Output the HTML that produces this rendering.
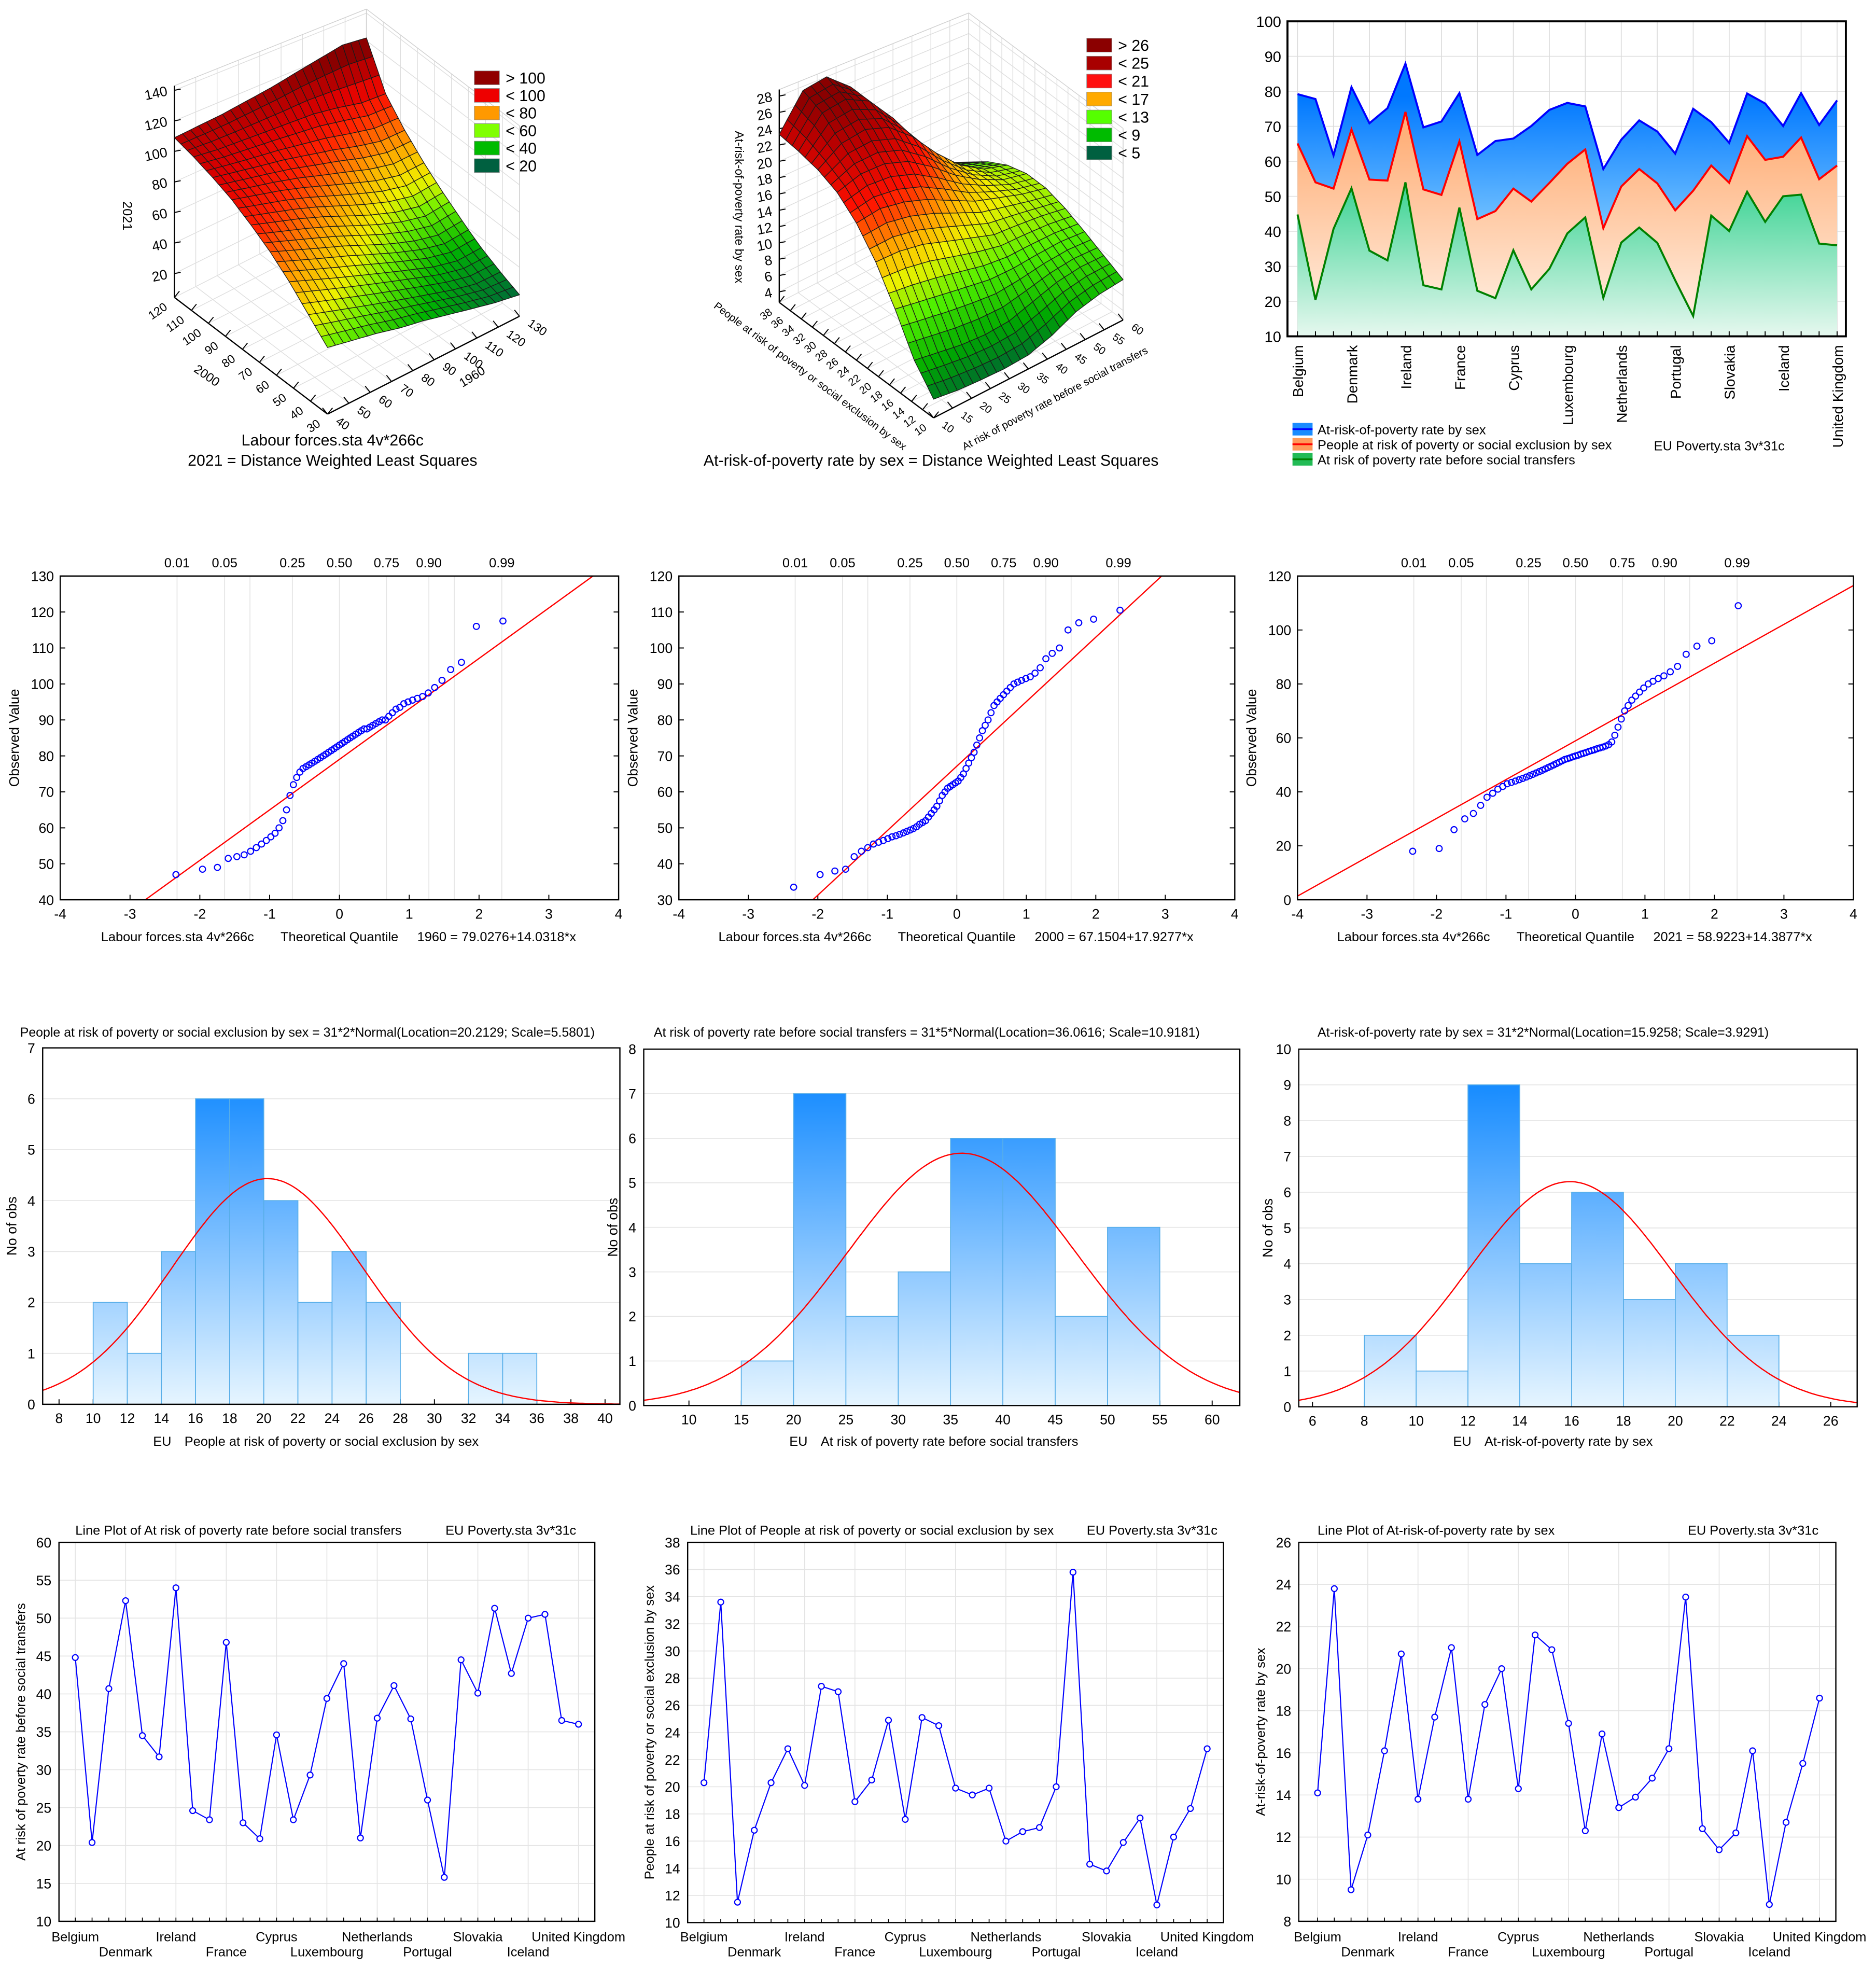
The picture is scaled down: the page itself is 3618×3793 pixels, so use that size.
<!DOCTYPE html>
<html><head><meta charset="utf-8">
<style>html,body{margin:0;padding:0;background:#fff}svg{display:block}text{font-family:"Liberation Sans",Arial,sans-serif}</style>
</head><body>
<svg id="root" width="3618" height="3793" viewBox="0 0 1495 1567.4" preserveAspectRatio="none" xmlns="http://www.w3.org/2000/svg"><defs id="defs"></defs><rect x="0" y="0" width="1495" height="1568" fill="#fff"/></svg>
<script>
// ---------- DATA ----------
const countries=["Belgium","Bulgaria","Czechia","Denmark","Germany","Estonia","Ireland","Greece","Spain","France","Croatia","Italy","Cyprus","Latvia","Lithuania","Luxembourg","Hungary","Malta","Netherlands","Austria","Poland","Portugal","Romania","Slovenia","Slovakia","Finland","Sweden","Iceland","Norway","Switzerland","United Kingdom"];
const beforeTransfers=[44.8,20.4,40.7,52.3,34.5,31.7,54.0,24.6,23.4,46.8,23.0,20.9,34.6,23.4,29.3,39.4,44.0,21.0,36.8,41.1,36.7,26.0,15.8,44.5,40.1,51.3,42.7,50.0,50.5,36.5,36.0];
const peopleAtRisk=[20.3,33.6,11.5,16.8,20.3,22.8,20.1,27.4,27.0,18.9,20.5,24.9,17.6,25.1,24.5,19.9,19.4,19.9,16.0,16.7,17.0,20.0,35.8,14.3,13.8,15.9,17.7,11.3,16.3,18.4,22.8];
const atRiskRate=[14.1,23.8,9.5,12.1,16.1,20.7,13.8,17.7,21.0,13.8,18.3,20.0,14.3,21.6,20.9,17.4,12.3,16.9,13.4,13.9,14.8,16.2,23.4,12.4,11.4,12.2,16.1,8.8,12.7,15.5,18.6];
const h1BinStarts=[10,12,14,16,18,20,22,24,26,28,30,32,34];
const h1Counts=[2,1,3,6,6,4,2,3,2,0,0,1,1];
const h1Fit=[20.2129,5.5801,62];
const h2BinStarts=[15,20,25,30,35,40,45,50];
const h2Counts=[1,7,2,3,6,6,2,4];
const h2Fit=[36.0616,10.9181,155];
const h3BinStarts=[8,10,12,14,16,18,20,22];
const h3Counts=[2,1,9,4,6,3,4,2];
const h3Fit=[15.9258,3.9291,62];
const qq1Obs=[47,48.5,49,51.5,52,52.5,53.5,54.5,55.5,56.5,57.5,58.5,60,62,65,69,72,74,75.5,76.5,77,77.5,78,78.5,79,79.5,80,80.5,81,81.5,82,82.5,83,83.5,84,84.5,85,85.5,86,86.5,87,87.5,87.5,88,88.5,89,89.5,90,90,91,92,93,93.5,94.5,95,95.5,96,96.5,97.5,99,101,104,106,116,117.5];
const qq1Fit=[79.0276,14.0318];
const qq2Obs=[33.5,37,38,38.5,42,43.5,44.5,45.5,46,46.5,47,47.5,47.8,48.2,48.6,49,49.4,49.8,50.3,51,51.5,52,53,54,55,56,57.5,59,60,61,61.5,62,62.5,63,64,65,66.5,68,69.5,71,73,75,77,78.5,80,82,84,85,86,87,88,89,90,90.5,91,91.5,92,93,94.5,97,98.5,100,105,107,108,110.5];
const qq2Fit=[67.1504,17.9277];
const qq3Obs=[18,19,26,30,32,35,38,39.5,41,42,43,43.5,44,44.5,45,45.5,46,46.5,47,47.5,48,48.5,49,49.5,50,50.5,51,51.5,52,52.3,52.6,53,53.3,53.6,54,54.3,54.6,55,55.3,55.6,56,56.3,56.6,57,57.5,58.5,61,64,67,70,72,74,75.5,77,78.5,80,81,82,83,84.5,86.5,91,94,96,109];
const qq3Fit=[58.9223,14.3877];
const quantileLabels=["0.01","0.05","0.25","0.50","0.75","0.90","0.99"];
const quantileProbs=[0.01,0.05,0.25,0.5,0.75,0.9,0.99];
const surf1Grid=[
[48,45,42,38,35,31,27,23,20],
[60,55,50,45,40,35,30,26,26],
[72,66,60,54,48,42,36,32,33],
[82,76,70,64,57,50,44,40,42],
[90,85,80,74,67,60,54,50,52],
[97,93,89,84,78,72,66,62,63],
[102,99,96,93,89,85,80,76,76],
[106,104,103,102,101,100,97,93,92],
[109,110,111,113,115,118,121,124,122]];
const surf2Grid=[
[5,4.6,4.4,4.3,4.5,5.5,7,7.8,8.2],
[8,7.5,7,6.8,7,8,9,9.5,9.5],
[12.5,12,11.5,11,10.5,10.5,10.8,11,10.8],
[16.5,16.5,16,15,14,13,12.8,12.5,12],
[19.5,20,19.5,18.5,17,15.5,14.5,13.5,12.8],
[21.5,22.5,22.5,21.5,19.5,17,15,13.5,12.8],
[22.5,24.5,25,24,21.5,18,15,13,12],
[23,26.5,27,25.5,22,17.5,14,11.5,10.5],
[23.3,27.5,28,25.5,21,16,12,10,8.5]];
const legend1Labels=["> 100","< 100","< 80","< 60","< 40","< 20"];
const legend2Labels=["> 26","< 25","< 21","< 17","< 13","< 9","< 5"];

// ---------- HELPERS ----------
const NS='http://www.w3.org/2000/svg';
const root=document.getElementById('root');
const defs=document.getElementById('defs');
function mk(tag,attrs,parent){const e=document.createElementNS(NS,tag);for(const k in attrs)e.setAttribute(k,attrs[k]);(parent||root).appendChild(e);return e;}
function tx(s,x,y,opts,parent){const t=mk('text',Object.assign({x:x,y:y,'font-size':10.5,fill:'#000'},opts||{}),parent);t.textContent=s;return t;}
function grad(id,y1,y2,c1,c2){const g=mk('linearGradient',{id:id,gradientUnits:'userSpaceOnUse',x1:0,y1:y1,x2:0,y2:y2},defs);mk('stop',{offset:0,'stop-color':c1},g);mk('stop',{offset:1,'stop-color':c2},g);}
function hex(c){return [parseInt(c.slice(1,3),16),parseInt(c.slice(3,5),16),parseInt(c.slice(5,7),16)];}
function cmap(stops,z){if(z<=stops[0][0])return stops[0][1];for(let i=1;i<stops.length;i++){if(z<=stops[i][0]){const t=(z-stops[i-1][0])/(stops[i][0]-stops[i-1][0]);const a=hex(stops[i-1][1]),b=hex(stops[i][1]);return 'rgb('+a.map((v,k)=>Math.round(v+(b[k]-v)*t)).join(',')+')';}}return stops[stops.length-1][1];}
function invN(p){const a=[-3.969683028665376e+01,2.209460984245205e+02,-2.759285104469687e+02,1.383577518672690e+02,-3.066479806614716e+01,2.506628277459239e+00];const b=[-5.447609879822406e+01,1.615858368580409e+02,-1.556989798598866e+02,6.680131188771972e+01,-1.328068155288572e+01];const c=[-7.784894002430293e-03,-3.223964580411365e-01,-2.400758277161838e+00,-2.549732539343734e+00,4.374664141464968e+00,2.938163982698783e+00];const d=[7.784695709041462e-03,3.224671290700398e-01,2.445134137142996e+00,3.754408661907416e+00];const pl=0.02425;let q,r;if(p<pl){q=Math.sqrt(-2*Math.log(p));return (((((c[0]*q+c[1])*q+c[2])*q+c[3])*q+c[4])*q+c[5])/((((d[0]*q+d[1])*q+d[2])*q+d[3])*q+1);}if(p>1-pl){q=Math.sqrt(-2*Math.log(1-p));return -(((((c[0]*q+c[1])*q+c[2])*q+c[3])*q+c[4])*q+c[5])/((((d[0]*q+d[1])*q+d[2])*q+d[3])*q+1);}q=p-0.5;r=q*q;return (((((a[0]*r+a[1])*r+a[2])*r+a[3])*r+a[4])*r+a[5])*q/(((((b[0]*r+b[1])*r+b[2])*r+b[3])*r+b[4])*r+1);}
function frame(g,F,w){const r=mk('rect',{x:F.l,y:F.t,width:F.r-F.l,height:F.b-F.t,fill:'none',stroke:'#000','stroke-width':w||1},g);

}

// ---------- 3D SURFACE ----------
function surface(g,C){
  const P=(a,b,z)=>{const s=1-0.1*b;return [C.F[0]+a*(C.L[0]-C.F[0])+b*(C.R[0]-C.F[0]), C.F[1]+a*(C.L[1]-C.F[1])+b*(C.R[1]-C.F[1])-(z-C.z0)*C.zpx*s];};
  const gl=(p,q,col,w,name)=>{const l=mk('line',{x1:p[0],y1:p[1],x2:q[0],y2:q[1],stroke:col,'stroke-width':w},g);
    
    };
  C.aTicks.forEach(v=>{const a=(v-C.aMin)/(C.aMax-C.aMin);gl(P(a,0,C.z0),P(a,1,C.z0),'#dedede',0.6,'floor-gridline');gl(P(a,1,C.z0),P(a,1,C.zTop),'#dedede',0.6,'wall-gridline');});
  C.bTicks.forEach(v=>{const b=(v-C.bMin)/(C.bMax-C.bMin);gl(P(0,b,C.z0),P(1,b,C.z0),'#dedede',0.6,'floor-gridline');gl(P(1,b,C.z0),P(1,b,C.zTop),'#dedede',0.6,'wall-gridline');});
  C.zTicks.forEach(z=>{gl(P(1,0,z),P(1,1,z),'#dedede',0.6,'wall-gridline');gl(P(1,1,z),P(0,1,z),'#dedede',0.6,'wall-gridline');});
  gl(P(1,0,C.zTop),P(1,1,C.zTop),'#d0d0d0',0.6,'box-edge');gl(P(1,1,C.zTop),P(0,1,C.zTop),'#d0d0d0',0.6,'box-edge');
  gl(P(0,1,C.z0),P(0,1,C.zTop),'#d0d0d0',0.6,'box-edge');gl(P(1,1,C.z0),P(1,1,C.zTop),'#d0d0d0',0.6,'box-edge');
  gl(P(0,0,C.z0),P(1,0,C.z0),'#000',1,'left-floor-axis');
  gl(P(0,0,C.z0),P(0,1,C.z0),'#000',1,'right-floor-axis');
  gl(P(1,0,C.z0),P(1,0,C.zTop),'#000',1,'z-axis');
  C.zTicks.forEach(z=>{const p=P(1,0,z);gl(p,[p[0]+5,p[1]-1],'#000',0.8,'z-tick');
    const t=tx(String(z),p[0]-5,p[1]+4,{'text-anchor':'end','font-size':11,transform:'rotate(-12 '+(p[0]-5)+' '+(p[1]+4)+')'},g);
    
    });
  C.aTicks.forEach(v=>{const a=(v-C.aMin)/(C.aMax-C.aMin);const p=P(a,0,C.z0);gl(p,[p[0]+4,p[1]-5],'#000',0.8,'left-axis-tick');
    const x=p[0]-5,y=p[1]+9;
    const t=tx(String(v),x,y,{'text-anchor':'end','font-size':C.fs,transform:'rotate(-35 '+x+' '+y+')'},g);
    
    });
  C.bTicks.forEach(v=>{const b=(v-C.bMin)/(C.bMax-C.bMin);const p=P(0,b,C.z0);gl(p,[p[0]-4,p[1]-5],'#000',0.8,'right-axis-tick');
    const x=p[0]+6,y=p[1]+7;
    const t=tx(String(v),x,y,{'text-anchor':'start','font-size':C.fs,transform:'rotate(35 '+x+' '+y+')'},g);
    
    });
  // surface mesh (each data cell drawn with 3x3 bilinear sub-cells)
  const G=C.grid,nA=G.length,nB=G[0].length,S=3,NA=(nA-1)*S,NB=(nB-1)*S;
  const Z=(i,j)=>{const fa=i/S,fb=j/S,ia=Math.min(Math.floor(fa),nA-2),ib=Math.min(Math.floor(fb),nB-2),ta=fa-ia,tb=fb-ib;
    return G[ia][ib]*(1-ta)*(1-tb)+G[ia+1][ib]*ta*(1-tb)+G[ia][ib+1]*(1-ta)*tb+G[ia+1][ib+1]*ta*tb;};
  const quads=[];
  for(let i=0;i<NA;i++)for(let j=0;j<NB;j++)quads.push([i,j]);
  quads.sort((p,q)=>(q[0]+q[1])-(p[0]+p[1]));
  quads.forEach(([i,j])=>{const a0=i/NA,a1=(i+1)/NA,b0=j/NB,b1=(j+1)/NB;
    const z00=Z(i,j),z10=Z(i+1,j),z11=Z(i+1,j+1),z01=Z(i,j+1);
    const pts=[P(a0,b0,z00),P(a1,b0,z10),P(a1,b1,z11),P(a0,b1,z01)];
    const zm=(z00+z10+z11+z01)/4;
    const pg=mk('polygon',{points:pts.map(p=>p[0].toFixed(1)+','+p[1].toFixed(1)).join(' '),fill:cmap(C.stops,zm),stroke:'#1a1a1a','stroke-width':0.55,'stroke-linejoin':'round'},g);
    
    });
  C.legendLabels.forEach((s,k)=>{const y=C.legY+k*C.legDy;
    const r=mk('rect',{x:C.legX,y:y-5.5,width:20,height:11,fill:C.legendColors[k],stroke:'#888','stroke-width':0.4},g);
    
    
    const t=tx(s,C.legX+25,y+4.5,{'font-size':12.5},g);
    
    });
}

const g1=mk('g',{});


surface(g1,{F:[261,330],L:[139,237],R:[414,252],z0:4.4,zpx:1.217,zTop:143,grid:surf1Grid,
 aMin:30,aMax:120,aTicks:[30,40,50,60,70,80,90,100,110,120],bMin:40,bMax:130,bTicks:[40,50,60,70,80,90,100,110,120,130],zTicks:[20,40,60,80,100,120,140],fs:9.5,
 stops:[[18,'#006040'],[35,'#00b400'],[48,'#70f000'],[58,'#f0f000'],[72,'#ffa000'],[88,'#ff2000'],[100,'#e00000'],[118,'#8a0000']],
 legendLabels:legend1Labels,legendColors:['#900000','#ee0000','#ff9900','#80ff00','#00bb00','#006040'],legX:378,legY:62,legDy:14});
let t;
t=tx('2021',98,172,{'text-anchor':'middle','font-size':10.5,transform:'rotate(90 98 172)'},g1);


t=tx('2000',163,302,{'text-anchor':'middle','font-size':10,transform:'rotate(35 163 302)'},g1);


t=tx('1960',378,303,{'text-anchor':'middle','font-size':10,transform:'rotate(-32 378 303)'},g1);


t=tx('Labour forces.sta 4v*266c',265,355,{'text-anchor':'middle','font-size':12.5},g1);


t=tx('2021 = Distance Weighted Least Squares',265,371,{'text-anchor':'middle','font-size':12.5},g1);



const g2=mk('g',{});


surface(g2,{F:[744,333],L:[621,241],R:[895,255],z0:2.7,zpx:6.5,zTop:28.8,grid:surf2Grid,
 aMin:10,aMax:38,aTicks:[10,12,14,16,18,20,22,24,26,28,30,32,34,36,38],bMin:10,bMax:60,bTicks:[10,15,20,25,30,35,40,45,50,55,60],zTicks:[4,6,8,10,12,14,16,18,20,22,24,26,28],fs:8.5,
 stops:[[3.5,'#005a3c'],[7,'#00aa00'],[11,'#50f000'],[14.5,'#f0f000'],[17,'#ffa800'],[20.5,'#ff1000'],[24,'#c00000'],[27,'#8a0000']],
 legendLabels:legend2Labels,legendColors:['#8b0000','#a80000','#ff1010','#ffaa00','#55ff00','#00bb00','#006040'],legX:866,legY:36,legDy:14.3});
t=tx('At-risk-of-poverty rate by sex',586,165,{'text-anchor':'middle','font-size':9.5,transform:'rotate(90 586 165)'},g2);


t=tx('People at risk of poverty or social exclusion by sex',644,302,{'text-anchor':'middle','font-size':8.5,transform:'rotate(37 644 302)'},g2);


t=tx('At risk of poverty rate before social transfers',842,320,{'text-anchor':'middle','font-size':8.5,transform:'rotate(-28 842 320)'},g2);


t=tx('At-risk-of-poverty rate by sex = Distance Weighted Least Squares',742,371,{'text-anchor':'middle','font-size':12.5},g2);



// ---------- STACKED AREA ----------
(function(){
  const g=mk('g',{});
  
  
  const F={l:1026,r:1471,t:17,b:268},x0=1034,x1=1464,ymin=10,ymax=100;
  const sx=i=>x0+(x1-x0)*i/(countries.length-1), sy=v=>F.b-(v-ymin)/(ymax-ymin)*(F.b-F.t);
  grad('gBlue',F.t+60,F.b-80,'#0078ff','#7cc8ff');
  grad('gOrange',F.t+90,F.b,'#ffb07a','#fff4ea');
  grad('gGreen',F.t+120,F.b,'#2ed08c','#e6f8ef');
  for(let v=ymin;v<=ymax;v+=10){const y=sy(v);
    const l=mk('line',{x1:F.l,x2:F.r,y1:y,y2:y,stroke:'#e2e2e2','stroke-width':0.7},g);
    
    
    const s=tx(String(v),F.l-5,y+4.5,{'text-anchor':'end','font-size':12},g);
    
    }
  countries.forEach((c,i)=>{if(i%2===0){const l=mk('line',{x1:sx(i),x2:sx(i),y1:F.t,y2:F.b,stroke:'#dcdcdc','stroke-width':0.7},g);
    
    }});
  const s1=beforeTransfers, s2=beforeTransfers.map((v,i)=>v+peopleAtRisk[i]), s3=s2.map((v,i)=>v+atRiskRate[i]);
  const area=(top,bot,fill,name)=>{let d='M'+top.map((v,i)=>sx(i).toFixed(1)+','+sy(v).toFixed(1)).join('L');
    for(let i=bot.length-1;i>=0;i--)d+='L'+sx(i).toFixed(1)+','+sy(bot[i]).toFixed(1);
    const p=mk('path',{d:d+'Z',fill:fill,stroke:'none'},g);
    
    };
  const base=countries.map(()=>ymin);
  area(s3,s2,'url(#gBlue)','area-at-risk-rate');
  area(s2,s1,'url(#gOrange)','area-people-at-risk');
  area(s1,base,'url(#gGreen)','area-before-transfers');
  const line=(vals,col,name)=>{const p=mk('polyline',{points:vals.map((v,i)=>sx(i).toFixed(1)+','+sy(v).toFixed(1)).join(' '),fill:'none',stroke:col,'stroke-width':1.6},g);
    
    };
  line(s3,'#0000ff','line-at-risk-rate');line(s2,'#ff0000','line-people-at-risk');line(s1,'#008000','line-before-transfers');
  frame(g,F,1.6);
  countries.forEach((c,i)=>{const l=mk('line',{x1:sx(i),x2:sx(i),y1:F.b,y2:F.b-4,stroke:'#000','stroke-width':0.8},g);
    
    
    if(i%3===0){const x=sx(i)+4.5,y=275;
      const s=tx(c,x,y,{'text-anchor':'end','font-size':11.5,transform:'rotate(-90 '+x+' '+y+')'},g);
      
      }});
  const leg=[['At-risk-of-poverty rate by sex','#1a8cff','#0000ff'],['People at risk of poverty or social exclusion by sex','#ff9a5a','#ff0000'],['At risk of poverty rate before social transfers','#22bb55','#008000']];
  leg.forEach((e,k)=>{const y=342+k*12;
    const r=mk('rect',{x:1030,y:y-5,width:16,height:10,fill:e[1]},g);
    
    
    const l=mk('line',{x1:1030,x2:1046,y1:y,y2:y,stroke:e[2],'stroke-width':1.4},g);
    
    
    const s=tx(e[0],1050,y+4,{'font-size':10.5},g);
    
    });
  const s=tx('EU Poverty.sta 3v*31c',1318,359,{'font-size':10.5},g);
  
  
})();

// ---------- QQ PLOTS ----------
function qq(F,ymin,ymax,ystep,obs,fit,eq,name){
  const g=mk('g',{});
  
  
  const sx=z=>F.l+(z+4)/8*(F.r-F.l), sy=v=>F.b-(v-ymin)/(ymax-ymin)*(F.b-F.t);
  const cid=name+'-clip';const cp=mk('clipPath',{id:cid},defs);mk('rect',{x:F.l,y:F.t,width:F.r-F.l,height:F.b-F.t},cp);
  [0.01,0.05,0.1,0.25,0.5,0.75,0.9,0.95,0.99].forEach(p=>{const x=sx(invN(p));
    const l=mk('line',{x1:x,x2:x,y1:F.t,y2:F.b,stroke:'#e4e4e4','stroke-width':0.7},g);
    
    });
  quantileProbs.forEach((p,k)=>{const s=tx(quantileLabels[k],sx(invN(p)),452,{'text-anchor':'middle','font-size':10.5},g);
    
    });
  for(let z=-4;z<=4;z++){const x=sx(z);
    const l=mk('line',{x1:x,x2:x,y1:F.b,y2:F.b-4,stroke:'#000','stroke-width':0.8},g);
    
    
    const s=tx(String(z),x,F.b+15,{'text-anchor':'middle','font-size':11},g);
    
    }
  for(let v=ymin;v<=ymax+1e-9;v+=ystep){const y=sy(v);
    const l=mk('path',{d:'M'+F.l+','+y+'h4M'+F.r+','+y+'h-4',stroke:'#000','stroke-width':0.8},g);
    
    
    const s=tx(String(v),F.l-5,y+4,{'text-anchor':'end','font-size':11},g);
    
    }
  const fl=mk('line',{x1:sx(-4),y1:sy(fit[0]-4*fit[1]),x2:sx(4),y2:sy(fit[0]+4*fit[1]),stroke:'#ff0000','stroke-width':1,'clip-path':'url(#'+cid+')'},g);
  
  
  const n=obs.length;
  obs.forEach((v,i)=>{const z=invN((i+1-0.375)/(n+0.25));
    const c=mk('circle',{cx:sx(z),cy:sy(v),r:2.4,fill:'none',stroke:'#0000ff','stroke-width':0.9},g);
    
    });
  frame(g,F,1);
  const cx=(F.l+F.r)/2;
  let s=tx('Observed Value',F.l-33,588,{'text-anchor':'middle','font-size':11,transform:'rotate(-90 '+(F.l-33)+' 588)'},g);
  
  
  s=tx('Labour forces.sta 4v*266c',cx-190,750,{'font-size':10.5},g);
  
  
  s=tx('Theoretical Quantile',cx,750,{'text-anchor':'middle','font-size':10.5},g);
  
  
  s=tx(eq,cx+62,750,{'font-size':10.5},g);
  
  
}
qq({l:48,r:493,t:459,b:717},40,130,10,qq1Obs,qq1Fit,'1960 = 79.0276+14.0318*x','qq-plot-1960');
qq({l:541,r:984,t:459,b:717},30,120,10,qq2Obs,qq2Fit,'2000 = 67.1504+17.9277*x','qq-plot-2000');
qq({l:1034,r:1477,t:459,b:717},0,120,20,qq3Obs,qq3Fit,'2021 = 58.9223+14.3877*x','qq-plot-2021');

// ---------- HISTOGRAMS ----------
function hist(F,dmin,dmax,ticks,ymax,starts,counts,bw,fit,title,titleX,xcap,name){
  const g=mk('g',{});
  
  
  const sx=v=>F.l+(v-dmin)/(dmax-dmin)*(F.r-F.l), sy=v=>F.b-v/ymax*(F.b-F.t);
  const gid=name+'-grad';grad(gid,F.t,F.b,'#0080ff','#e6f5ff');
  for(let v=0;v<=ymax;v++){const y=sy(v);
    const l=mk('line',{x1:F.l,x2:F.r,y1:y,y2:y,stroke:'#e4e4e4','stroke-width':0.7},g);
    
    
    const s=tx(String(v),F.l-6,y+4,{'text-anchor':'end','font-size':11},g);
    
    }
  ticks.forEach(v=>{const x=sx(v);
    const l=mk('line',{x1:x,x2:x,y1:F.b,y2:F.b-4,stroke:'#000','stroke-width':0.8},g);
    
    
    const s=tx(String(v),x,F.b+15,{'text-anchor':'middle','font-size':11},g);
    
    });
  starts.forEach((st,k)=>{if(!counts[k])return;
    const r=mk('rect',{x:sx(st),y:sy(counts[k]),width:sx(st+bw)-sx(st),height:sy(0)-sy(counts[k]),fill:'url(#'+gid+')',stroke:'#58aee8','stroke-width':0.7},g);
    
    });
  const cid=name+'-clip';const cp=mk('clipPath',{id:cid},defs);mk('rect',{x:F.l,y:F.t,width:F.r-F.l,height:F.b-F.t},cp);
  let d='';for(let k=0;k<=200;k++){const x=dmin+(dmax-dmin)*k/200;const y=fit[2]*Math.exp(-Math.pow(x-fit[0],2)/(2*fit[1]*fit[1]))/(fit[1]*Math.sqrt(2*Math.PI));d+=(k?'L':'M')+sx(x).toFixed(1)+','+sy(y).toFixed(1);}
  const c=mk('path',{d:d,fill:'none',stroke:'#ff0000','stroke-width':1,'clip-path':'url(#'+cid+')'},g);
  
  
  frame(g,F,1);
  let s=tx(title,titleX,826,{'font-size':10.3},g);
  
  
  s=tx('No of obs',F.l-21,(F.t+F.b)/2,{'text-anchor':'middle','font-size':11,transform:'rotate(-90 '+(F.l-21)+' '+((F.t+F.b)/2)+')'},g);
  
  
  s=tx('EU',xcap[1],1152,{'font-size':10.5},g);
  
  
  s=tx(xcap[0],xcap[1]+25,1152,{'font-size':10.5},g);
  
  
}
hist({l:34,r:494,t:835,b:1119},7.04,40.87,[8,10,12,14,16,18,20,22,24,26,28,30,32,34,36,38,40],7,h1BinStarts,h1Counts,2,h1Fit,'People at risk of poverty or social exclusion by sex = 31*2*Normal(Location=20.2129; Scale=5.5801)',16,['People at risk of poverty or social exclusion by sex',122],'histogram-people-at-risk');
hist({l:513,r:988,t:836,b:1120},5.68,62.64,[10,15,20,25,30,35,40,45,50,55,60],8,h2BinStarts,h2Counts,5,h2Fit,'At risk of poverty rate before social transfers = 31*5*Normal(Location=36.0616; Scale=10.9181)',521,['At risk of poverty rate before social transfers',629],'histogram-before-transfers');
hist({l:1035,r:1480,t:836,b:1121},5.47,27.02,[6,8,10,12,14,16,18,20,22,24,26],10,h3BinStarts,h3Counts,2,h3Fit,'At-risk-of-poverty rate by sex = 31*2*Normal(Location=15.9258; Scale=3.9291)',1050,['At-risk-of-poverty rate by sex',1158],'histogram-at-risk-rate');

// ---------- LINE PLOTS ----------
function linePlot(F,vals,ymin,ymax,ystep,xa,xb,title,titleX,srcX,ytitle,name){
  const g=mk('g',{});
  
  
  const sx=i=>xa+(xb-xa)*i/(vals.length-1), sy=v=>F.b-(v-ymin)/(ymax-ymin)*(F.b-F.t);
  for(let v=ymin;v<=ymax+1e-9;v+=ystep){const y=sy(v);
    const l=mk('line',{x1:F.l,x2:F.r,y1:y,y2:y,stroke:'#e4e4e4','stroke-width':0.7},g);
    
    
    const s=tx(String(v),F.l-6,y+4,{'text-anchor':'end','font-size':11},g);
    
    }
  vals.forEach((v,i)=>{const x=sx(i);
    if(i%3===0){const l=mk('line',{x1:x,x2:x,y1:F.t,y2:F.b,stroke:'#e4e4e4','stroke-width':0.7},g);
      
      
      const s=tx(countries[i],x,(i/3)%2===0?1547:1559,{'text-anchor':'middle','font-size':10.5},g);
      
      }
    const tk=mk('line',{x1:x,x2:x,y1:F.b,y2:F.b-3,stroke:'#000','stroke-width':0.7},g);
    
    });
  const pl=mk('polyline',{points:vals.map((v,i)=>sx(i).toFixed(1)+','+sy(v).toFixed(1)).join(' '),fill:'none',stroke:'#0000ff','stroke-width':0.9},g);
  
  
  vals.forEach((v,i)=>{const c=mk('circle',{cx:sx(i),cy:sy(v),r:2.3,fill:'#fff',stroke:'#0000ff','stroke-width':0.9},g);
    
    });
  frame(g,F,1);
  let s=tx(title,titleX,1223,{'font-size':10.5},g);
  
  
  s=tx('EU Poverty.sta 3v*31c',srcX,1223,{'font-size':10.5},g);
  
  
  const yc=(F.t+F.b)/2;
  s=tx(ytitle,F.l-27,yc,{'text-anchor':'middle','font-size':10.5,transform:'rotate(-90 '+(F.l-27)+' '+yc+')'},g);
  
  
}
linePlot({l:47,r:474,t:1229,b:1531},beforeTransfers,10,60,5,60,461,'Line Plot of At risk of poverty rate before social transfers',60,355,'At risk of poverty rate before social transfers','line-plot-before-transfers');
linePlot({l:548,r:975,t:1229,b:1532},peopleAtRisk,10,38,2,561,962,'Line Plot of People at risk of poverty or social exclusion by sex',550,866,'People at risk of poverty or social exclusion by sex','line-plot-people-at-risk');
linePlot({l:1035,r:1463,t:1229,b:1531},atRiskRate,8,26,2,1050,1450,'Line Plot of At-risk-of-poverty rate by sex',1050,1345,'At-risk-of-poverty rate by sex','line-plot-at-risk-rate');
</script>
</body></html>
